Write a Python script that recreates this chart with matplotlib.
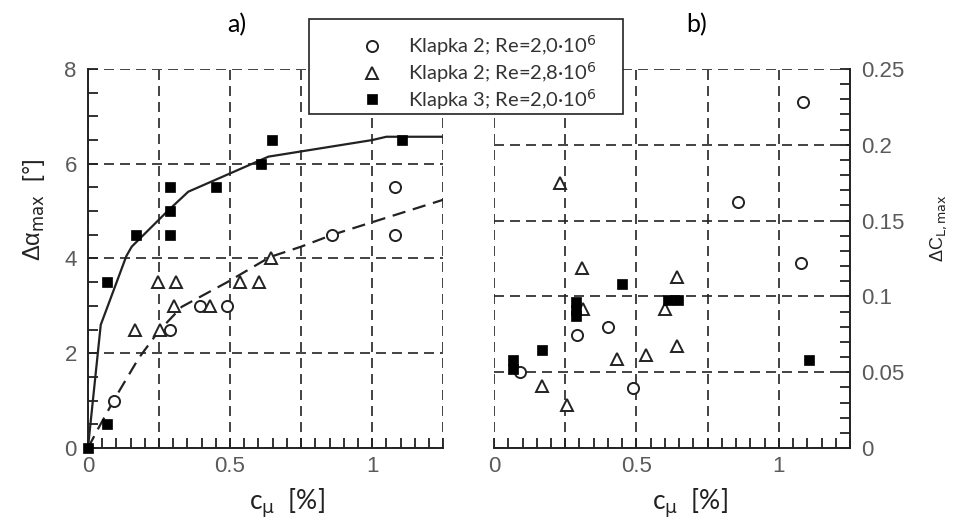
import matplotlib.pyplot as plt
from matplotlib.ticker import MultipleLocator, FuncFormatter
from matplotlib.lines import Line2D
from matplotlib.patches import Rectangle

# a) increase of the stall angle vs. blowing coefficient
a_cmu_k2_re20 = [0.092, 0.29, 0.395, 0.488, 0.86, 1.08, 1.08]
a_da_k2_re20 = [1.0, 2.5, 3.0, 3.0, 4.5, 4.5, 5.5]
a_cmu_k2_re28 = [0.166, 0.254, 0.245, 0.309, 0.303, 0.43, 0.535, 0.602, 0.643]
a_da_k2_re28 = [2.5, 2.5, 3.5, 3.5, 3.0, 3.0, 3.5, 3.5, 4.0]
a_cmu_k3_re20 = [0.0, 0.067, 0.067, 0.17, 0.288, 0.288, 0.288, 0.45, 0.609, 0.646, 1.105]
a_da_k3_re20 = [0.0, 3.5, 0.5, 4.5, 5.5, 5.0, 4.5, 5.5, 6.0, 6.5, 6.5]

# trend lines (solid: Klapka 3, dashed: Klapka 2)
fit_k3_x = [0.0, 0.045, 0.078, 0.135, 0.154, 0.28, 0.353, 0.635, 1.0, 1.05, 1.25]
fit_k3_y = [0.0, 2.6, 3.13, 4.05, 4.25, 5.0, 5.41, 6.15, 6.5, 6.57, 6.57]
fit_k2_x = [0.0, 0.037, 0.093, 0.178, 0.248, 0.33, 0.49, 0.64, 0.75, 0.86, 1.25]
fit_k2_y = [0.0, 0.42, 1.03, 1.89, 2.46, 2.98, 3.5, 4.03, 4.25, 4.5, 5.24]

# b) increase of the max lift coefficient
b_cmu_k2_re20 = [1.084, 0.856, 1.077, 0.091, 0.292, 0.401, 0.489]
b_dcl_k2_re20 = [0.228, 0.162, 0.122, 0.050, 0.0747, 0.0798, 0.0396]
b_cmu_k2_re28 = [0.231, 0.309, 0.313, 0.644, 0.600, 0.644, 0.534, 0.432, 0.170, 0.256]
b_dcl_k2_re28 = [0.175, 0.119, 0.0917, 0.113, 0.092, 0.067, 0.0615, 0.059, 0.041, 0.0286]
b_cmu_k3_re20 = [0.068, 0.068, 0.170, 0.289, 0.289, 0.289, 0.451, 0.611, 0.645, 1.105]
b_dcl_k3_re20 = [0.058, 0.052, 0.0644, 0.096, 0.091, 0.087, 0.108, 0.0975, 0.0975, 0.058]

labels = ['Klapka 2; Re=2,0·10$^6$', 'Klapka 2; Re=2,8·10$^6$',
          'Klapka 3; Re=2,0·10$^6$']

tick_font = 'Liberation Sans'
tick_color = '#5a5a5a'
grid_ls = (0, (6, 3.6))

fig = plt.figure(figsize=(9.55, 5.22), dpi=100)
ax1 = fig.add_axes([0.0921, 0.1418, 0.372, 0.726])
ax2 = fig.add_axes([0.5173, 0.1418, 0.3728, 0.726])

circ = dict(marker='o', markersize=8, markerfacecolor='white',
            markeredgecolor='#222', markeredgewidth=1.4, linestyle='none')
tri = dict(marker='^', markersize=8.5, markerfacecolor='white',
           markeredgecolor='#222', markeredgewidth=1.4, linestyle='none')
sq = dict(marker='s', markersize=7.5, markerfacecolor='black',
          markeredgecolor='black', markeredgewidth=0.5, linestyle='none')

# axes setup first, data afterwards
for ax in (ax1, ax2):
    ax.set_xlim(0, 1.25)
    ax.xaxis.set_major_locator(MultipleLocator(0.25))
    ax.xaxis.set_minor_locator(MultipleLocator(0.05))
    ax.xaxis.set_major_formatter(FuncFormatter(
        lambda v, p: '%g' % v if abs(v * 2 - round(v * 2)) < 1e-6 else ''))

ax1.set_ylim(0, 8)
ax1.yaxis.set_major_locator(MultipleLocator(2))
ax1.yaxis.set_minor_locator(MultipleLocator(0.5))
ax1.spines['top'].set_visible(False)
ax1.spines['right'].set_visible(False)

ax2.set_ylim(0, 0.25)
ax2.yaxis.set_major_locator(MultipleLocator(0.05))
ax2.yaxis.set_minor_locator(MultipleLocator(0.01))
ax2.yaxis.set_major_formatter(FuncFormatter(lambda v, p: '%g' % round(v, 3)))
ax2.spines['top'].set_visible(False)
ax2.spines['left'].set_visible(False)

for ax in (ax1, ax2):
    ax.grid(True, which='major', color='#222', lw=1.2, ls=grid_ls)
    ax.set_axisbelow(True)
    ax.tick_params(which='both', direction='in', color='#222', width=1.3,
                   length=7, labelsize=16, labelcolor=tick_color)
    ax.tick_params(axis='x', which='both', pad=6)
    ax.tick_params(axis='y', which='both', pad=8)
    for s in ax.spines.values():
        s.set_linewidth(1.4)
        s.set_color('#222')

ax2.tick_params(axis='y', which='both', left=False, right=True,
                labelleft=False, labelright=True)

# panel a
ax1.plot(fit_k3_x, fit_k3_y, color='#222', lw=1.6, zorder=3)
ax1.plot(fit_k2_x, fit_k2_y, color='#222', lw=1.6, ls=(0, (6, 3.5)), zorder=3)
ax1.plot(a_cmu_k2_re20, a_da_k2_re20, zorder=4, **circ)
ax1.plot(a_cmu_k2_re28, a_da_k2_re28, zorder=4, **tri)
ax1.plot(a_cmu_k3_re20, a_da_k3_re20, zorder=5, clip_on=False, **sq)

# panel b
ax2.plot(b_cmu_k2_re20, b_dcl_k2_re20, zorder=4, **circ)
ax2.plot(b_cmu_k2_re28, b_dcl_k2_re28, zorder=4, **tri)
ax2.plot(b_cmu_k3_re20, b_dcl_k3_re20, zorder=5, **sq)

ax1.set_xlim(0, 1.25)
ax1.set_ylim(0, 8)
ax2.set_xlim(0, 1.25)
ax2.set_ylim(0, 0.25)

for ax in (ax1, ax2):
    for t in ax.get_xticklabels() + ax.get_yticklabels():
        t.set_fontfamily(tick_font)

# axis labels
fig.text(0.036, 1 - 210 / 522, 'Δα$_{\\rm max}$  [°]', rotation=90,
         ha='center', va='center', fontsize=17, fontfamily='Liberation Sans',
         color='#222')
fig.text(0.983, 1 - 228 / 522, 'ΔC$_{\\rm L,max}$', rotation=90,
         ha='center', va='center', fontsize=13, fontfamily='Liberation Sans',
         color='#222')
for xc in (287 / 955, 690 / 955):
    fig.text(xc, 1 - 503 / 522, 'c$_{\\rm μ}$  [%]', ha='center', va='center',
             fontsize=19, fontfamily='Lato', color='#222')

fig.text(237 / 955, 1 - 25 / 522, 'a)', ha='center', va='center',
         fontsize=18, fontfamily='Lato')
fig.text(697 / 955, 1 - 25 / 522, 'b)', ha='center', va='center',
         fontsize=18, fontfamily='Lato')

# legend box spans both panels
fig.patches.append(Rectangle((309 / 955, 1 - 114 / 522), 314 / 955, 95 / 522,
                             transform=fig.transFigure, fill=True,
                             facecolor='white', edgecolor='#222', lw=1.2,
                             zorder=9))
handles = [Line2D([], [], **circ), Line2D([], [], **tri), Line2D([], [], **sq)]
leg = fig.legend(handles, labels, loc='upper left',
                 bbox_to_anchor=(352 / 955, 1 - 33 / 522),
                 prop={'family': 'Lato', 'size': 14.5}, frameon=False,
                 borderpad=0, labelspacing=0.1, handlelength=2.0,
                 handletextpad=0.8, borderaxespad=0)
leg.set_zorder(10)
for t in leg.get_texts():
    t.set_color('#333')

fig.savefig('out.png', dpi=100)
